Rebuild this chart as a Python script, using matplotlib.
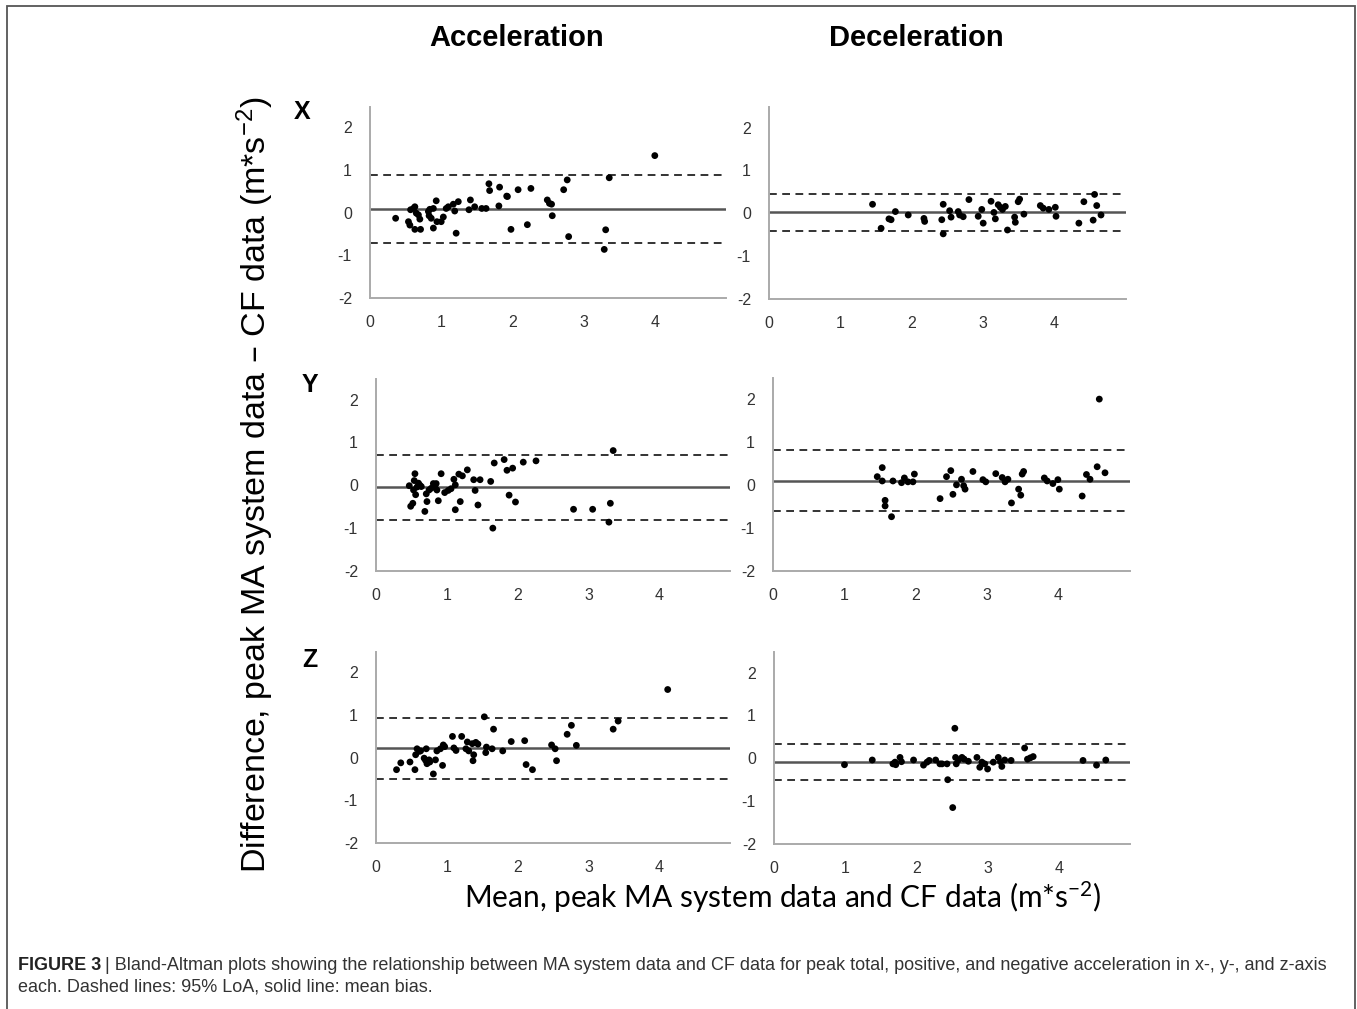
import matplotlib
matplotlib.use("Agg")
import matplotlib.pyplot as plt
from matplotlib.patches import Rectangle

plt.rcParams['font.family'] = ['Liberation Sans', 'DejaVu Sans']
plt.rcParams['mathtext.default'] = 'regular'

# ---- data ----
col_titles = ['Acceleration', 'Deceleration']
row_titles = ['X', 'Y', 'Z']
xticks = [0, 1, 2, 3, 4]
yticks = [-2, -1, 0, 1, 2]

# X axis, acceleration
x_acc_mean = [0.36, 0.54, 0.56, 0.57, 0.61, 0.63, 0.63, 0.65, 0.68, 0.70, 0.71, 0.82, 0.83, 0.84,
              0.86, 0.89, 0.89, 0.93, 0.94, 1.00, 1.03, 1.07, 1.10, 1.17, 1.19, 1.21, 1.24, 1.39,
              1.41, 1.47, 1.57, 1.63, 1.67, 1.68, 1.81, 1.82, 1.92, 1.93, 1.98, 2.08, 2.21, 2.26,
              2.49, 2.52, 2.55, 2.56, 2.72, 2.77, 2.79, 3.31, 3.29, 3.36, 4.00]
x_acc_diff = [-0.13, -0.21, -0.29, 0.07, 0.10, 0.14, -0.39, -0.01, -0.05, -0.15, -0.39, 0.03, -0.07, 0.08,
              -0.13, -0.36, 0.10, 0.28, -0.21, -0.21, -0.10, 0.10, 0.14, 0.20, 0.04, -0.48, 0.26, 0.07,
              0.30, 0.14, 0.10, 0.10, 0.68, 0.52, 0.16, 0.60, 0.39, 0.38, -0.39, 0.54, -0.28, 0.57,
              0.30, 0.22, 0.20, -0.07, 0.54, 0.77, -0.56, -0.40, -0.86, 0.82, 1.34]
x_acc_lines = [0.08, 0.89, -0.72]   # bias, upper LoA, lower LoA

# X axis, deceleration
x_dec_mean = [1.45, 1.57, 1.68, 1.71, 1.77, 1.95, 2.17, 2.18, 2.42, 2.44, 2.44, 2.53, 2.55, 2.65,
              2.67, 2.72, 2.80, 2.93, 2.98, 3.00, 3.11, 3.15, 3.17, 3.21, 3.24, 3.27, 3.31, 3.34,
              3.44, 3.45, 3.49, 3.51, 3.57, 3.80, 3.84, 3.92, 4.01, 4.02, 4.34, 4.41, 4.54, 4.56,
              4.59, 4.65]
x_dec_diff = [0.21, -0.35, -0.13, -0.15, 0.04, -0.04, -0.12, -0.19, -0.15, 0.21, -0.48, 0.06, -0.09, 0.04,
              -0.04, -0.08, 0.32, -0.07, 0.09, -0.23, 0.28, 0.02, -0.13, 0.20, 0.14, 0.09, 0.16, -0.39,
              -0.09, -0.21, 0.27, 0.33, -0.02, 0.18, 0.12, 0.09, 0.14, -0.07, -0.23, 0.27, -0.16, 0.44,
              0.18, -0.04]
x_dec_lines = [0.02, 0.45, -0.42]

# Y axis, acceleration
y_acc_mean = [0.47, 0.49, 0.52, 0.53, 0.54, 0.55, 0.56, 0.58, 0.60, 0.62, 0.64, 0.69, 0.71, 0.72,
              0.75, 0.78, 0.81, 0.83, 0.85, 0.86, 0.88, 0.92, 0.97, 1.02, 1.06, 1.10, 1.12, 1.12,
              1.17, 1.19, 1.22, 1.29, 1.38, 1.40, 1.44, 1.47, 1.62, 1.65, 1.67, 1.81, 1.85, 1.88,
              1.93, 1.97, 2.08, 2.26, 2.79, 3.06, 3.29, 3.31, 3.35]
y_acc_diff = [-0.01, -0.49, -0.42, -0.11, 0.11, 0.27, -0.22, -0.04, 0.05, 0.00, -0.03, -0.61, -0.20, -0.38,
              -0.11, -0.07, 0.04, -0.03, 0.04, -0.11, -0.36, 0.27, -0.17, -0.12, -0.08, 0.14, -0.57, 0.01,
              0.26, -0.38, 0.22, 0.36, 0.13, -0.12, -0.46, 0.13, 0.09, -1.00, 0.52, 0.60, 0.35, -0.23,
              0.40, -0.39, 0.54, 0.57, -0.56, -0.56, -0.86, -0.42, 0.81]
y_acc_lines = [-0.05, 0.70, -0.81]

# Y axis, deceleration
y_dec_mean = [1.46, 1.53, 1.53, 1.57, 1.57, 1.66, 1.68, 1.80, 1.84, 1.89, 1.96, 1.98, 2.34, 2.43,
              2.49, 2.52, 2.57, 2.64, 2.67, 2.69, 2.80, 2.94, 2.98, 3.12, 3.21, 3.25, 3.29, 3.34,
              3.44, 3.47, 3.49, 3.51, 3.80, 3.84, 3.92, 3.99, 4.01, 4.33, 4.39, 4.44, 4.54, 4.57,
              4.65]
y_dec_diff = [0.19, 0.40, 0.09, -0.36, -0.49, -0.74, 0.09, 0.05, 0.16, 0.07, 0.07, 0.25, -0.32, 0.19,
              0.33, -0.22, 0.00, 0.13, -0.02, -0.10, 0.31, 0.12, 0.07, 0.26, 0.17, 0.07, 0.13, -0.42,
              -0.10, -0.24, 0.25, 0.31, 0.16, 0.09, 0.03, 0.12, -0.10, -0.26, 0.24, 0.13, 0.42, 1.99,
              0.28]
y_dec_lines = [0.10, 0.81, -0.61]

# Z axis, acceleration
z_acc_mean = [0.29, 0.35, 0.48, 0.55, 0.56, 0.58, 0.61, 0.63, 0.68, 0.70, 0.71, 0.72, 0.75, 0.76,
              0.81, 0.84, 0.86, 0.91, 0.94, 0.95, 0.97, 1.08, 1.10, 1.13, 1.21, 1.27, 1.29, 1.31,
              1.36, 1.37, 1.38, 1.41, 1.44, 1.53, 1.55, 1.56, 1.64, 1.66, 1.79, 1.91, 2.10, 2.12,
              2.21, 2.48, 2.53, 2.55, 2.70, 2.76, 2.83, 3.35, 3.42, 4.12]
z_acc_diff = [-0.28, -0.12, -0.10, -0.28, 0.07, 0.21, 0.15, 0.16, -0.01, -0.06, 0.21, -0.14, -0.05, -0.10,
              -0.38, -0.05, 0.16, 0.21, -0.18, 0.30, 0.26, 0.50, 0.23, 0.17, 0.50, 0.21, 0.37, 0.16,
              0.33, -0.07, 0.07, 0.36, 0.32, 0.96, 0.12, 0.25, 0.21, 0.67, 0.16, 0.38, 0.40, -0.16,
              -0.28, 0.30, 0.21, -0.07, 0.55, 0.76, 0.29, 0.67, 0.86, 1.60]
z_acc_lines = [0.22, 0.93, -0.49]

# Z axis, deceleration
z_dec_mean = [0.99, 1.38, 1.67, 1.70, 1.71, 1.77, 1.79, 1.96, 2.10, 2.15, 2.18, 2.27, 2.33, 2.36,
              2.43, 2.44, 2.51, 2.54, 2.55, 2.56, 2.59, 2.64, 2.67, 2.73, 2.85, 2.89, 2.92, 2.96,
              3.00, 3.08, 3.15, 3.18, 3.20, 3.24, 3.33, 3.52, 3.56, 3.60, 3.64, 4.34, 4.53, 4.66]
z_dec_diff = [-0.15, -0.04, -0.13, -0.09, -0.15, 0.02, -0.08, -0.04, -0.16, -0.09, -0.05, -0.04, -0.13, -0.13,
              -0.13, -0.50, -1.15, 0.70, 0.02, -0.13, -0.04, 0.02, -0.02, -0.07, 0.02, -0.21, -0.09, -0.13,
              -0.25, -0.09, 0.02, -0.08, -0.19, -0.04, -0.05, 0.24, -0.02, 0.01, 0.04, -0.05, -0.16, -0.04]
z_dec_lines = [-0.08, 0.34, -0.51]

panels = [
    [(x_acc_mean, x_acc_diff, x_acc_lines), (x_dec_mean, x_dec_diff, x_dec_lines)],
    [(y_acc_mean, y_acc_diff, y_acc_lines), (y_dec_mean, y_dec_diff, y_dec_lines)],
    [(z_acc_mean, z_acc_diff, z_acc_lines), (z_dec_mean, z_dec_diff, z_dec_lines)],
]

# axes boxes in pixels: left, right, top, bottom
W, H = 1357, 1009
boxes = [
    [(370, 726, 107, 298), (769, 1126, 107, 299)],
    [(376, 730, 379, 571), (773, 1130, 378, 571)],
    [(376, 730, 652, 843), (774, 1130, 652, 844)],
]

fig = plt.figure(figsize=(W / 100, H / 100), dpi=100)

for r in range(3):
    for c in range(2):
        l, rr, t, b = boxes[r][c]
        ax = fig.add_axes([l / W, 1 - b / H, (rr - l) / W, (b - t) / H])
        xs, ys, (bias, up, lo) = panels[r][c]
        ax.axhline(bias, color='#555555', lw=1.8, zorder=2)
        ax.axhline(up, color='#333333', lw=1.4, ls=(0, (4, 2.8)), zorder=2)
        ax.axhline(lo, color='#333333', lw=1.4, ls=(0, (4, 2.8)), zorder=2)
        ax.scatter(xs, ys, s=24, color='black', edgecolors='none', zorder=3)
        ax.set_xlim(0, 5)
        ax.set_ylim(-2, 2.48)
        ax.set_xticks(xticks)
        ax.set_yticks(yticks)
        ax.set_yticklabels([str(v) for v in yticks])
        ax.tick_params(length=0, labelsize=11.5, labelcolor='#333333')
        ax.tick_params(axis='x', pad=12)
        ax.tick_params(axis='y', pad=13)
        for s in ['top', 'right']:
            ax.spines[s].set_visible(False)
        for s in ['left', 'bottom']:
            ax.spines[s].set_color('#aaaaaa')
            ax.spines[s].set_linewidth(1.4)

# column titles
fig.text(517 / W, 1 - 38 / H, col_titles[0], ha='center', va='center', fontsize=21,
         fontweight='bold', family=['Liberation Sans Narrow', 'Liberation Sans'])
fig.text(916 / W, 1 - 38 / H, col_titles[1], ha='center', va='center', fontsize=21,
         fontweight='bold', family=['Liberation Sans Narrow', 'Liberation Sans'])

# row titles
row_pos = [(302, 112), (310, 385), (310, 660)]
for lab, (px, py) in zip(row_titles, row_pos):
    fig.text(px / W, 1 - py / H, lab, ha='center', va='center', fontsize=18, fontweight='bold')

# axis labels
fig.text(255 / W, 1 - 485 / H, 'Difference, peak MA system data \u2013 CF data (m*s$^{-2}$)',
         rotation=90, ha='center', va='center', fontsize=24.5)
fig.text(783 / W, 1 - 897 / H, 'Mean, peak MA system data and CF data (m*s$^{-2}$)',
         ha='center', va='center', fontsize=21.5, family=['Lato', 'DejaVu Sans'])

# outer frame
fig.patches.append(Rectangle((7 / W, -0.01), (1355 - 7) / W, 1 - 6 / H + 0.01,
                             transform=fig.transFigure, fill=False, edgecolor='#555555', lw=1.3))

# caption
fig.canvas.draw()
rend = fig.canvas.get_renderer()
t1 = fig.text(18 / W, 1 - 965 / H, 'FIGURE 3', ha='left', va='center', fontsize=13,
              fontweight='bold', color='#222222')
bb = t1.get_window_extent(renderer=rend)
fig.text((bb.x1 + 4) / W, 1 - 965 / H,
         '| Bland-Altman plots showing the relationship between MA system data and CF data for peak total, '
         'positive, and negative acceleration in x-, y-, and z-axis',
         ha='left', va='center', fontsize=13, color='#333333')
fig.text(18 / W, 1 - 987 / H, 'each. Dashed lines: 95% LoA, solid line: mean bias.',
         ha='left', va='center', fontsize=13, color='#333333')

fig.savefig('out.png', dpi=100)
